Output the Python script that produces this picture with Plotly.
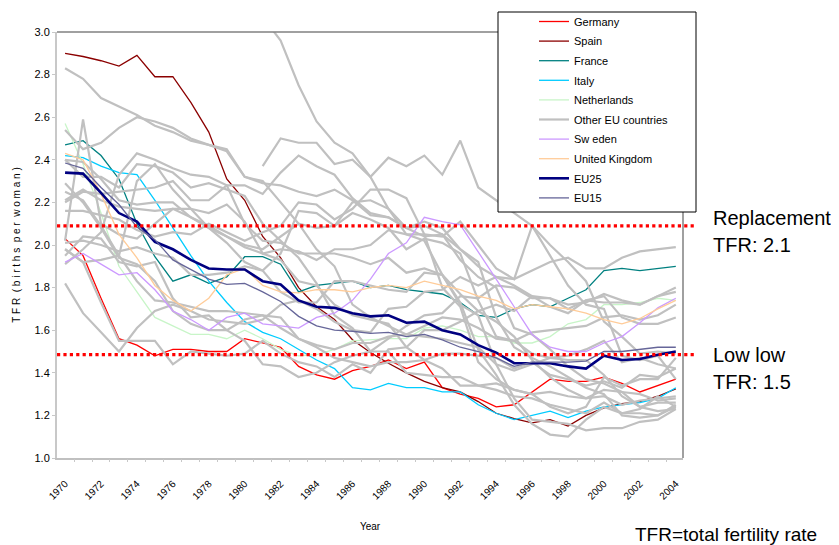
import plotly.graph_objects as go

years = list(range(1970, 2005))
tick_years = list(range(1970, 2005, 2))

germany = [2.03,1.95,1.75,1.56,1.53,1.48,1.51,1.51,1.50,1.50,1.56,1.54,1.52,1.43,1.39,1.37,1.41,1.43,1.46,1.42,1.45,1.33,1.30,1.28,1.24,1.25,1.31,1.37,1.36,1.36,1.38,1.35,1.31,1.34,1.37]
spain = [2.90,2.885,2.865,2.84,2.89,2.79,2.79,2.67,2.53,2.31,2.21,2.04,1.94,1.80,1.71,1.65,1.555,1.495,1.445,1.40,1.36,1.33,1.31,1.265,1.21,1.185,1.165,1.18,1.15,1.20,1.235,1.255,1.265,1.29,1.325]
france = [2.47,2.49,2.42,2.31,2.10,1.945,1.83,1.86,1.82,1.85,1.945,1.945,1.91,1.78,1.81,1.82,1.83,1.80,1.81,1.79,1.78,1.77,1.73,1.67,1.66,1.70,1.72,1.71,1.75,1.79,1.88,1.89,1.88,1.89,1.90]
italy = [2.42,2.41,2.37,2.34,2.33,2.21,2.08,1.95,1.83,1.73,1.64,1.59,1.56,1.51,1.46,1.42,1.33,1.32,1.35,1.33,1.33,1.31,1.31,1.25,1.21,1.18,1.20,1.22,1.19,1.22,1.24,1.25,1.26,1.28,1.33]
netherlands = [2.57,2.38,2.15,1.90,1.78,1.66,1.62,1.58,1.58,1.56,1.60,1.56,1.51,1.48,1.485,1.51,1.55,1.555,1.56,1.56,1.61,1.62,1.60,1.57,1.57,1.54,1.54,1.57,1.63,1.65,1.72,1.72,1.73,1.75,1.74]
sweden = [1.92,1.96,1.91,1.86,1.87,1.79,1.69,1.65,1.60,1.66,1.68,1.63,1.62,1.61,1.66,1.68,1.74,1.84,1.96,2.01,2.13,2.11,2.095,1.97,1.84,1.71,1.58,1.52,1.50,1.50,1.54,1.57,1.635,1.705,1.75]
uk = [2.43,2.40,2.24,2.05,1.94,1.81,1.74,1.69,1.75,1.86,1.89,1.81,1.78,1.775,1.79,1.79,1.78,1.80,1.81,1.80,1.83,1.81,1.79,1.76,1.74,1.70,1.72,1.71,1.70,1.68,1.65,1.63,1.655,1.70,1.74]
eu25 = [2.34,2.335,2.245,2.15,2.11,2.015,1.98,1.93,1.89,1.885,1.885,1.83,1.815,1.74,1.71,1.705,1.68,1.665,1.67,1.635,1.64,1.60,1.58,1.53,1.495,1.445,1.445,1.445,1.43,1.42,1.48,1.46,1.465,1.485,1.50]
eu15 = [2.385,2.36,2.27,2.19,2.085,2.025,1.93,1.885,1.84,1.815,1.82,1.78,1.735,1.665,1.62,1.60,1.595,1.585,1.59,1.57,1.58,1.555,1.52,1.50,1.47,1.43,1.45,1.45,1.45,1.455,1.50,1.50,1.51,1.52,1.52]

# Other EU countries (grey)
portugal = [2.83,2.78,2.69,2.65,2.61,2.56,2.53,2.49,2.47,2.45,2.32,2.30,2.20,2.10,1.98,1.90,1.72,1.66,1.62,1.58,1.57,1.56,1.54,1.52,1.44,1.41,1.44,1.47,1.48,1.51,1.55,1.45,1.47,1.44,1.42]
ireland = [3.93,3.98,3.87,3.77,3.62,3.40,3.32,3.27,3.24,3.23,3.21,3.07,2.96,2.75,2.58,2.48,2.43,2.32,2.17,2.08,2.11,2.08,1.98,1.90,1.85,1.84,1.88,1.92,1.94,1.89,1.89,1.94,1.97,1.98,1.99]
cyprus = [None]*11 + [2.37,2.50,2.48,2.48,2.38,2.40,2.32,2.41,2.37,2.42,2.33,2.49,2.27,2.21,2.15,2.09,2.00,1.92,1.83,1.64,1.57,1.49,1.50,1.49]
czech = [1.91,1.98,2.06,2.33,2.43,2.40,2.36,2.33,2.32,2.28,2.10,2.02,2.01,1.96,1.96,1.96,1.94,1.91,1.94,1.87,1.89,1.86,1.72,1.67,1.44,1.28,1.18,1.17,1.16,1.13,1.14,1.14,1.17,1.18,1.23]
estonia = [2.16,2.16,2.14,2.12,2.07,2.04,2.06,2.05,2.10,2.06,2.02,2.06,2.09,2.20,2.19,2.12,2.17,2.26,2.26,2.22,2.05,1.80,1.71,1.45,1.37,1.32,1.30,1.24,1.21,1.24,1.38,1.34,1.37,1.37,1.47]
hungary = [1.98,1.92,1.93,1.95,2.30,2.38,2.26,2.17,2.08,2.01,1.92,1.88,1.78,1.73,1.73,1.83,1.83,1.81,1.79,1.78,1.87,1.86,1.77,1.69,1.64,1.57,1.46,1.38,1.32,1.28,1.32,1.31,1.30,1.27,1.28]
latvia = [2.01,2.02,2.00,1.97,1.99,1.96,1.94,1.86,1.86,1.87,1.90,1.88,1.96,2.16,2.15,2.09,2.20,2.21,2.17,2.05,2.02,1.86,1.73,1.51,1.39,1.25,1.16,1.11,1.10,1.18,1.24,1.21,1.23,1.29,1.24]
lithuania = [2.40,2.39,2.31,2.21,2.19,2.20,2.20,2.13,2.09,2.04,2.00,1.98,2.04,2.10,2.08,2.09,2.15,2.12,2.08,1.98,2.03,2.01,1.96,1.74,1.57,1.55,1.49,1.47,1.46,1.46,1.39,1.29,1.24,1.26,1.26]
poland = [2.20,2.25,2.24,2.25,2.26,2.27,2.30,2.21,2.21,2.28,2.28,2.24,2.34,2.42,2.37,2.33,2.22,2.15,2.13,2.08,2.04,2.05,1.93,1.85,1.80,1.61,1.58,1.51,1.43,1.37,1.35,1.31,1.24,1.22,1.23]
slovakia = [2.54,2.45,2.48,2.55,2.60,2.58,2.55,2.50,2.47,2.44,2.32,2.29,2.28,2.25,2.23,2.26,2.21,2.14,2.13,2.08,2.09,2.05,1.98,1.92,1.66,1.52,1.47,1.43,1.38,1.33,1.30,1.20,1.19,1.20,1.24]
slovenia = [2.21,2.26,2.21,2.18,2.17,2.16,2.17,2.17,2.15,2.19,2.11,1.96,1.93,1.83,1.81,1.72,1.67,1.65,1.63,1.52,1.46,1.42,1.34,1.34,1.32,1.29,1.28,1.25,1.23,1.21,1.26,1.21,1.21,1.20,1.25]
austria = [2.29,2.20,2.08,1.94,1.91,1.83,1.69,1.63,1.60,1.60,1.65,1.67,1.66,1.56,1.52,1.47,1.45,1.43,1.45,1.45,1.46,1.49,1.49,1.48,1.47,1.42,1.45,1.39,1.37,1.34,1.36,1.33,1.39,1.38,1.42]
belgium = [2.25,2.21,2.09,1.95,1.83,1.74,1.73,1.71,1.69,1.69,1.68,1.67,1.61,1.56,1.53,1.51,1.54,1.54,1.57,1.58,1.62,1.66,1.65,1.61,1.56,1.55,1.59,1.60,1.61,1.62,1.66,1.67,1.65,1.67,1.72]
denmark = [1.95,2.04,2.03,1.92,1.90,1.92,1.75,1.66,1.67,1.60,1.55,1.44,1.43,1.38,1.40,1.45,1.48,1.50,1.56,1.62,1.67,1.68,1.76,1.75,1.81,1.80,1.75,1.75,1.72,1.73,1.77,1.74,1.72,1.76,1.78]
finland = [1.82,1.68,1.59,1.50,1.61,1.69,1.72,1.69,1.65,1.64,1.63,1.65,1.72,1.74,1.70,1.64,1.60,1.59,1.70,1.71,1.78,1.79,1.85,1.81,1.85,1.81,1.76,1.75,1.70,1.74,1.73,1.73,1.72,1.76,1.80]
greece = [2.40,2.32,2.32,2.27,2.38,2.37,2.34,2.27,2.29,2.26,2.23,2.10,2.02,1.94,1.82,1.67,1.61,1.50,1.50,1.40,1.39,1.38,1.38,1.34,1.35,1.32,1.30,1.31,1.29,1.28,1.29,1.25,1.27,1.28,1.29]
luxembourg = [1.98,1.92,1.73,1.55,1.55,1.55,1.44,1.50,1.49,1.48,1.49,1.55,1.49,1.45,1.43,1.38,1.44,1.40,1.51,1.52,1.60,1.60,1.64,1.69,1.72,1.69,1.76,1.71,1.68,1.74,1.76,1.66,1.63,1.63,1.66]
malta = [2.02,2.59,2.10,2.05,2.03,2.10,2.17,2.13,2.08,2.04,1.99,1.96,1.98,1.97,1.93,1.98,1.98,2.00,2.07,2.05,2.05,2.04,2.11,2.00,1.89,1.84,2.09,1.95,1.81,1.72,1.70,1.48,1.46,1.48,1.37]

others = [portugal, ireland, cyprus, czech, estonia, hungary, latvia, lithuania,
          poland, slovakia, slovenia, austria, belgium, denmark, finland, greece,
          luxembourg, malta]

replacement_tfr = 2.09
lowlow_tfr = 1.485

FONT = "Liberation Sans Narrow, Arial Narrow, Liberation Sans, Arial, sans-serif"
# page body has an 8px margin; figure is drawn 8px in from the window corner
OFF = 8
FIG_W, FIG_H = 839 - OFF, 545 - OFF
# plot area in window pixels
L, R, T, B = 57, 683, 32, 458
W, H = R - L, B - T

def px(xp):
    return (xp - L) / W

def py(yp):
    return (B - yp) / H

fig = go.Figure()

def add(name, vals, color, width, rank, show=True, group=None):
    fig.add_trace(go.Scatter(
        x=years, y=vals, mode="lines", name=name,
        line=dict(color=color, width=width),
        legendrank=rank, showlegend=show,
        legendgroup=group or name, connectgaps=False,
        hoverinfo="skip"))

add("Germany", germany, "#FF0000", 1.3, 1)
add("Spain", spain, "#8B0000", 1.3, 2)
add("France", france, "#008080", 1.3, 3)
add("Italy", italy, "#00CCFF", 1.3, 4)
add("Netherlands", netherlands, "#C8F5C8", 1.3, 5)
for i, s in enumerate(others):
    add("Other EU countries", s, "#C0C0C0", 2.2, 6, show=(i == 0), group="other")
add("Sw eden", sweden, "#CC99FF", 1.3, 7)
add("United Kingdom", uk, "#FFCC99", 1.3, 8)
add("EU25", eu25, "#000080", 2.6, 9)
add("EU15", eu15, "#666699", 1.3, 10)

# dummy trace on xaxis2 so category tick marks render
fig.add_trace(go.Scatter(x=[1970], y=[None], xaxis="x2", showlegend=False, hoverinfo="skip"))

# Reference lines
for yv in (replacement_tfr, lowlow_tfr):
    fig.add_shape(type="line", xref="paper", yref="y", x0=0, x1=px(697), y0=yv, y1=yv,
                  line=dict(color="#FF0000", width=3.2, dash="dot"), layer="above")

# frame top and right
fig.add_shape(type="line", xref="paper", yref="paper", x0=0, x1=1, y0=1, y1=1,
              line=dict(color="#808080", width=1.5))
fig.add_shape(type="line", xref="paper", yref="paper", x0=1, x1=1, y0=0, y1=1,
              line=dict(color="#A0A0A0", width=2))

# Legend box
fig.add_shape(type="rect", xref="paper", yref="paper",
              x0=px(498), x1=px(696), y0=py(212), y1=py(12),
              line=dict(color="#000000", width=1), fillcolor="white", layer="above")

def ann(text, xp, yp, size=20):
    fig.add_annotation(text=text, x=px(xp), y=py(yp),
                       xref="paper", yref="paper", xanchor="left", yanchor="middle",
                       showarrow=False, align="left",
                       font=dict(family="Liberation Sans, Arial, sans-serif", size=size, color="#000000"))

ann("Replacement", 711, 218)
ann("TFR: 2.1", 711, 245)
ann("Low low", 711, 355)
ann("TFR: 1.5", 711, 382)
ann("TFR=total fertility rate", 633, 534, 19)

fig.update_layout(
    width=FIG_W, height=FIG_H,
    margin=dict(l=L - OFF, r=FIG_W - (R - OFF), t=T - OFF, b=FIG_H - (B - OFF), autoexpand=False),
    paper_bgcolor="white", plot_bgcolor="white",
    font=dict(family=FONT, color="#000000"),
    showlegend=True,
    legend=dict(x=px(534), y=py(7), xanchor="left", yanchor="top",
                bgcolor="rgba(0,0,0,0)", borderwidth=0,
                font=dict(family=FONT, size=11, color="#000000"),
                traceorder="grouped", tracegroupgap=0.6, itemwidth=30),
    xaxis=dict(range=[1969.55, 2004.4], tickmode="array", tickvals=tick_years,
               ticktext=[str(y) for y in tick_years], tickangle=-45,
               tickfont=dict(family=FONT, size=10), ticks="", ticklabelstandoff=14,
               showgrid=False, zeroline=False, showline=True, linecolor="#C0C0C0",
               linewidth=2, mirror=False,
               title=dict(text="Year", font=dict(family=FONT, size=10), standoff=22)),
    xaxis2=dict(overlaying="x", matches="x", side="bottom",
                tickmode="linear", tick0=1969.5, dtick=1, ticks="outside",
                ticklen=3, tickcolor="#C8C8C8", showticklabels=False,
                showgrid=False, zeroline=False, showline=False),
    yaxis=dict(range=[1.0, 3.0], tickmode="linear", tick0=1.0, dtick=0.2,
               tickformat=".1f", tickfont=dict(family=FONT, size=11),
               ticks="outside", ticklen=3, tickcolor="#C8C8C8",
               showgrid=False, zeroline=False, showline=True, linecolor="#C8C8C8",
               linewidth=2,
               title=dict(text="T F R  ( b i r t h s  p e r  w o m a n )",
                          font=dict(family=FONT, size=10), standoff=12)),
)

fig.write_html("out.html")
